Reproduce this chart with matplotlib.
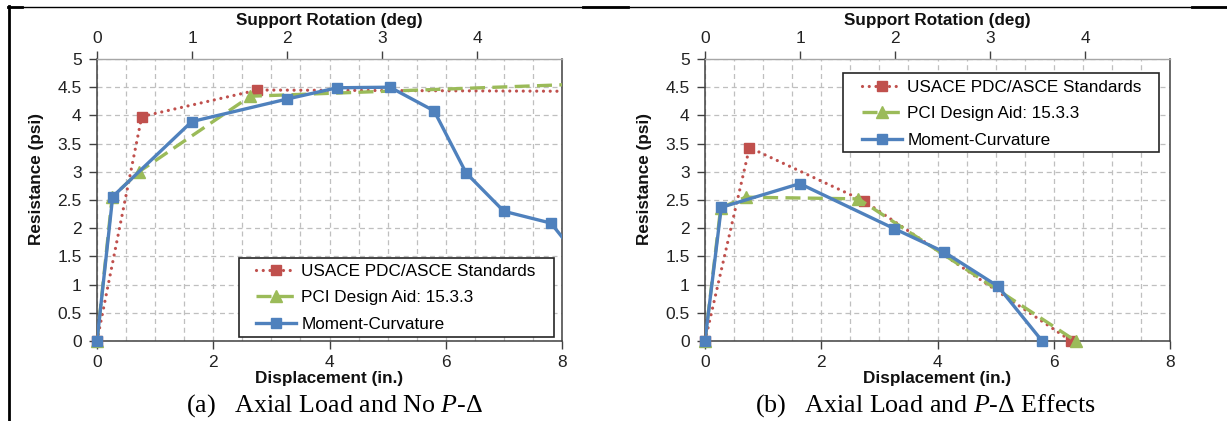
import matplotlib
matplotlib.use("Agg")
import matplotlib.pyplot as plt
from matplotlib.lines import Line2D
from matplotlib.patches import Rectangle
from matplotlib.ticker import MultipleLocator, FuncFormatter

plt.rcParams['font.family'] = ['Liberation Sans', 'DejaVu Sans']
plt.rcParams['mathtext.fontset'] = 'custom'
plt.rcParams['mathtext.rm'] = 'Liberation Serif'
plt.rcParams['mathtext.it'] = 'Liberation Serif:italic'

# ---------------- data ----------------
# Panel (a): Axial load and no P-Delta
a_usace_x = [0.0, 0.77, 2.76, 10.0]
a_usace_y = [0.0, 3.98, 4.45, 4.42]
a_pci_x = [0.0, 0.26, 0.72, 2.64, 8.2]
a_pci_y = [0.0, 2.55, 3.00, 4.34, 4.55]
a_mc_x = [0.0, 0.27, 1.63, 3.27, 4.13, 5.04, 5.80, 6.35, 7.00, 7.81, 8.50]
a_mc_y = [0.0, 2.56, 3.89, 4.29, 4.49, 4.50, 4.08, 2.98, 2.30, 2.09, 1.20]

# Panel (b): Axial load and P-Delta effects
b_usace_x = [0.0, 0.765, 2.74, 6.30]
b_usace_y = [0.0, 3.43, 2.48, 0.0]
b_pci_x = [0.0, 0.27, 0.70, 2.64, 6.38]
b_pci_y = [0.0, 2.36, 2.55, 2.52, 0.0]
b_mc_x = [0.0, 0.28, 1.63, 3.26, 4.11, 5.04, 5.80]
b_mc_y = [0.0, 2.37, 2.79, 1.99, 1.58, 0.97, 0.0]

series_labels = ["USACE PDC/ASCE Standards", "PCI Design Aid: 15.3.3", "Moment-Curvature"]
x_ticks = [0, 2, 4, 6, 8]
y_ticks = [0, 0.5, 1, 1.5, 2, 2.5, 3, 3.5, 4, 4.5, 5]
deg_ticks = [0, 1, 2, 3, 4]
in_per_deg = 1.635

captions = ["(a)   Axial Load and No $\\mathit{P}$-Δ", "(b)   Axial Load and $\\mathit{P}$-Δ Effects"]

RED = '#C0504D'
GREEN = '#9BBB59'
BLUE = '#4F81BD'
GRID = '#BFBFBF'

W, H = 1227, 421
fig = plt.figure(figsize=(W / 100, H / 100), dpi=100)


def fx(px):
    return px / W


def fy(py):
    return 1 - py / H


STYLES = [
    dict(color=RED, lw=2.3, ls=(0, (0.01, 2.1)), cap='round', marker='s', ms=7.5, z=3),
    dict(color=GREEN, lw=2.4, ls=(0, (4.5, 2.2)), cap='butt', marker='^', ms=8, z=4),
    dict(color=BLUE, lw=2.4, ls='-', cap='butt', marker='s', ms=6.5, z=5),
]


def make_panel(left_px, data, legend_box, handle_x, first_row_y, caption, cap_x):
    ax = fig.add_axes([fx(left_px), fy(341), 465 / W, (341 - 59) / H])
    handles = []
    for (xs, ys), st, lab in zip(data, STYLES, series_labels):
        ax.plot(xs, ys, color=st['color'], lw=st['lw'], linestyle=st['ls'],
                dash_capstyle=st['cap'], zorder=st['z'])
        mxs = [x for x in xs if 0 <= x <= 8]
        mys = [y for x, y in zip(xs, ys) if 0 <= x <= 8]
        ax.plot(mxs, mys, linestyle='none', marker=st['marker'], ms=st['ms'],
                mfc=st['color'], mec=st['color'], zorder=st['z'], clip_on=False)
        handles.append(Line2D([], [], color=st['color'], lw=st['lw'], linestyle=st['ls'],
                              dash_capstyle=st['cap'], marker=st['marker'], ms=st['ms'],
                              mfc=st['color'], mec=st['color'], label=lab))
    ax.set_xlim(0, 8)
    ax.set_ylim(0, 5)
    ax.set_xticks(x_ticks)
    ax.set_yticks(y_ticks)
    ax.xaxis.set_minor_locator(MultipleLocator(0.5))
    ax.yaxis.set_major_formatter(FuncFormatter(lambda v, p: '%g' % v))
    ax.tick_params(axis='x', which='major', direction='out', length=6, width=1, color='#404040',
                   labelsize=12.5, pad=4, labelcolor='#222222')
    ax.tick_params(axis='x', which='minor', length=0)
    ax.tick_params(axis='y', which='major', direction='out', length=6, width=1, color='#404040',
                   labelsize=12.5, pad=5, labelcolor='#222222')
    ax.grid(True, which='both', axis='x', color=GRID, lw=0.9, linestyle=(0, (4, 3)))
    ax.grid(True, which='major', axis='y', color=GRID, lw=0.9, linestyle=(0, (4, 3)))
    ax.set_axisbelow(True)
    for s in ['left', 'bottom', 'right']:
        ax.spines[s].set_color('#404040')
        ax.spines[s].set_linewidth(1.1)
    ax.spines['top'].set_color('#A6A6A6')
    ax.spines['top'].set_linewidth(1.0)

    sec = ax.secondary_xaxis('top', functions=(lambda x: x / in_per_deg, lambda d: d * in_per_deg))
    sec.set_xticks(deg_ticks)
    sec.tick_params(axis='x', direction='out', length=6, width=1, color='#404040',
                    labelsize=12.5, pad=3, labelcolor='#222222')
    sec.spines['top'].set_visible(False)

    # legend frame drawn by hand, legend itself frameless
    lx0, ly0, lx1, ly1 = legend_box
    frame = Rectangle((fx(lx0), fy(ly1)), (lx1 - lx0) / W, (ly1 - ly0) / H,
                      transform=fig.transFigure, facecolor='white', edgecolor='#262626',
                      lw=1.2, zorder=8)
    fig.add_artist(frame)
    leg = fig.legend(handles=handles, loc='upper left',
                     bbox_to_anchor=(fx(handle_x), fy(first_row_y - 6)),
                     bbox_transform=fig.transFigure,
                     fontsize=12.3, frameon=False, handlelength=2.35, handletextpad=0.3,
                     borderpad=0, labelspacing=0.67, borderaxespad=0)
    leg.set_zorder(9)

    cx = left_px + 232
    fig.text(fx(cx), fy(21), 'Support Rotation (deg)', ha='center', va='center',
             fontsize=12.3, fontweight='bold', color='#111111')
    fig.text(fx(cx), fy(378), 'Displacement (in.)', ha='center', va='center',
             fontsize=12.3, fontweight='bold', color='#111111')
    fig.text(fx(left_px - 60), fy(179), 'Resistance (psi)', ha='center', va='center',
             rotation=90, fontsize=12.3, fontweight='bold', color='#111111')
    fig.text(fx(cap_x), fy(406), caption, ha='center', va='center', fontsize=18.7,
             family='Liberation Serif', color='black')
    return ax


make_panel(97, [(a_usace_x, a_usace_y), (a_pci_x, a_pci_y), (a_mc_x, a_mc_y)],
           (239, 258, 554, 337), 256, 270, captions[0], 335)
make_panel(705, [(b_usace_x, b_usace_y), (b_pci_x, b_pci_y), (b_mc_x, b_mc_y)],
           (843, 73, 1159, 152), 862, 86, captions[1], 925)


# page frame lines
def hline(x0, x1, y, lw):
    fig.add_artist(Line2D([fx(x0), fx(x1)], [fy(y), fy(y)], color='black', lw=lw,
                          transform=fig.transFigure))


hline(8, 1227, 6.5, 1.0)
hline(8, 22, 7, 2.0)
hline(583, 628, 7, 2.0)
hline(1192, 1227, 7, 2.0)
fig.add_artist(Line2D([fx(8.5), fx(8.5)], [fy(6), fy(421)], color='black', lw=2.0,
                      transform=fig.transFigure))

fig.savefig('out.png', dpi=100)
